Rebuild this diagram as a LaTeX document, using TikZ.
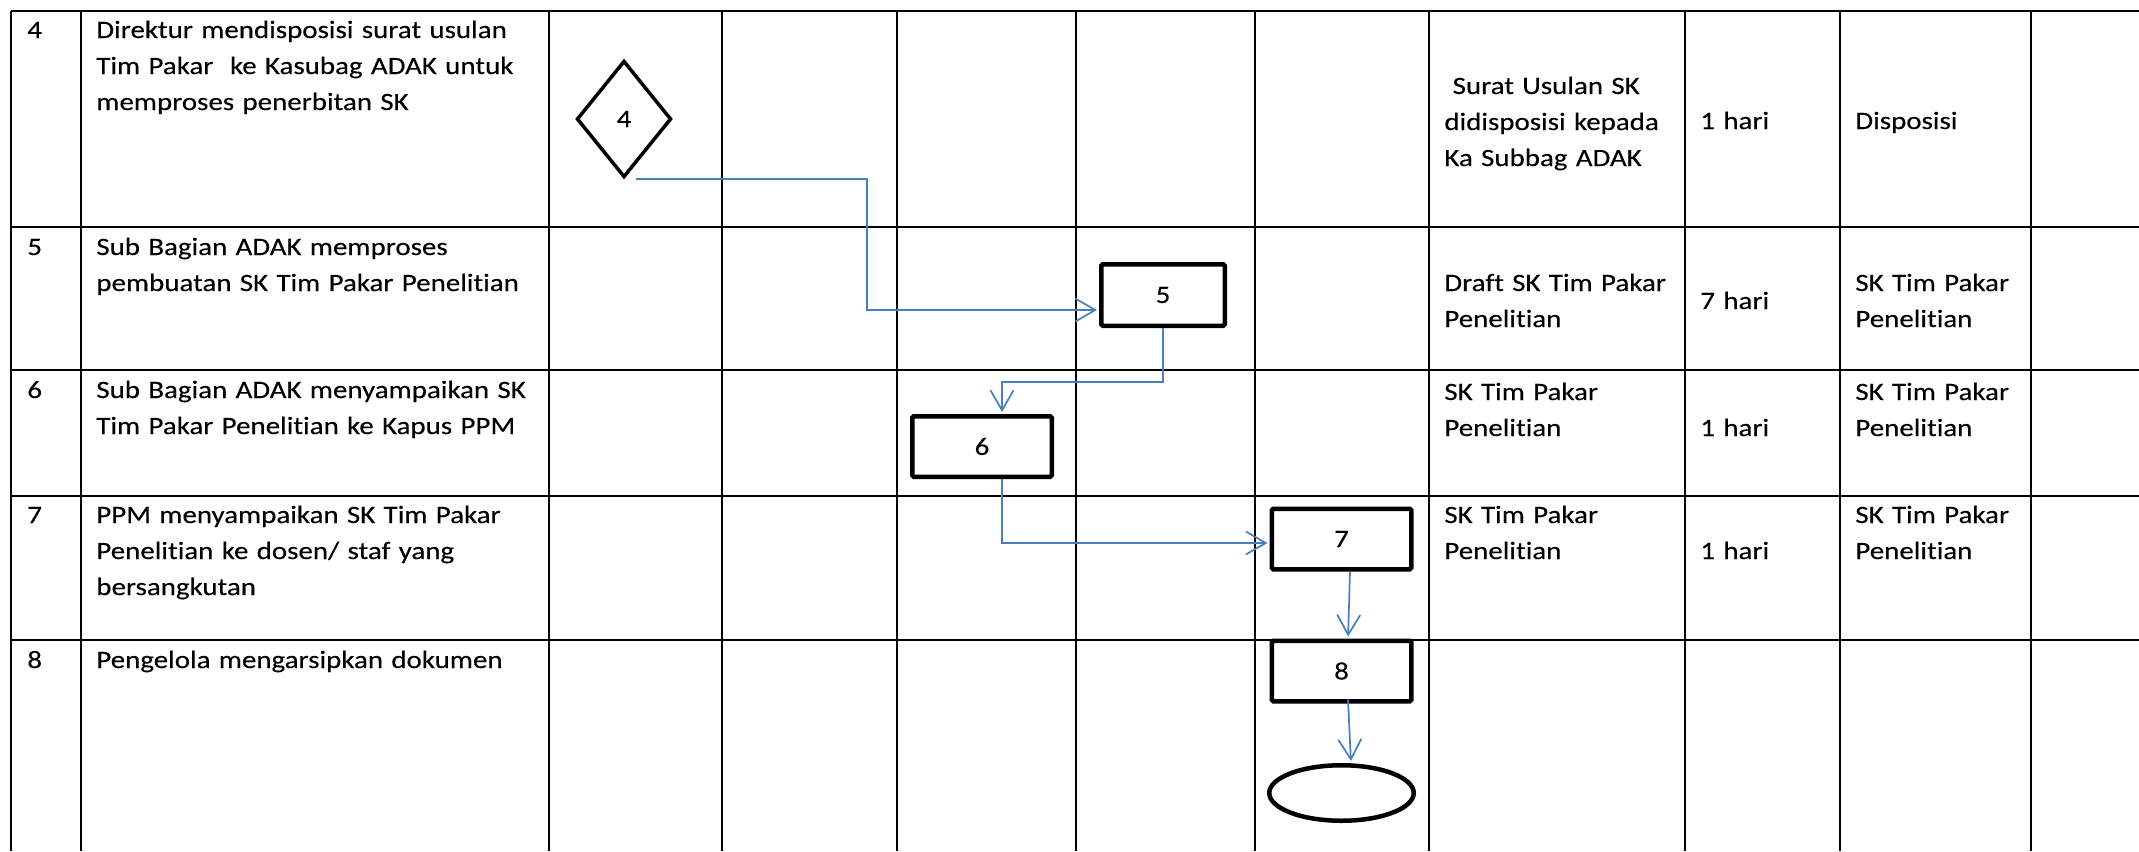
\documentclass[tikz,border=0pt]{standalone}
\usepackage{fontspec}
\setmainfont{Carlito}[FakeStretch=1.16,FakeBold=0.2,Ligatures=NoCommon]
\usetikzlibrary{shapes.geometric,arrows.meta}
\definecolor{flowblue}{RGB}{74,126,187}

\begin{document}
\begin{tikzpicture}[x=0.2mm,y=-0.2mm,
    grid/.style={line width=0.36mm},
    txt/.style={anchor=base west,inner sep=0pt,text width=110mm,align=left,
        font=\fontsize{14.2pt}{20.5pt}\selectfont},
    proc/.style={draw,rectangle,line width=0.9mm,rounded corners=0.3mm,
        minimum width=27.9mm,minimum height=12.1mm,inner sep=0pt,
        font=\fontsize{14.2pt}{20.5pt}\selectfont},
    flow/.style={draw=flowblue,line width=0.34mm,shorten >=0.4mm,
        -{Straight Barb[length=4mm,width=4.6mm]}}]

    \path[use as bounding box,fill=white] (0,0) rectangle (2139,851);

    % Table lines
    \foreach \c in {11,81,549,722,897,1076,1255,1429,1685,1840,2031}
        \draw[grid] (\c,11) -- (\c,851);
    \foreach \r in {11,227,370,496,640}
        \draw[grid] (11,\r) -- (2139,\r);

    % Step numbers
    \foreach \n/\r in {4/38,5/255,6/398,7/523,8/668}
        \node[txt] (no\n) at (27,\r) {\n};

    % Kegiatan
    \node[txt] (kg4) at (96,38) {Direktur mendisposisi surat usulan\\Tim Pakar \ ke Kasubag ADAK untuk\\memproses penerbitan SK};
    \node[txt] (kg5) at (96,255) {Sub Bagian ADAK memproses\\pembuatan SK Tim Pakar Penelitian};
    \node[txt] (kg6) at (96,398) {Sub Bagian ADAK menyampaikan SK\\Tim Pakar Penelitian ke Kapus PPM};
    \node[txt] (kg7) at (96,523) {PPM menyampaikan SK Tim Pakar\\Penelitian ke dosen/ staf yang\\bersangkutan};
    \node[txt] (kg8) at (96,668) {Pengelola mengarsipkan dokumen};

    % Kelengkapan
    \node[txt] (kl4) at (1444,94) {\ Surat Usulan SK\\didisposisi kepada\\Ka Subbag ADAK};
    \node[txt] (kl5) at (1444,291) {Draft SK Tim Pakar\\Penelitian};
    \node[txt] (kl6) at (1444,400) {SK Tim Pakar\\Penelitian};
    \node[txt] (kl7) at (1444,523) {SK Tim Pakar\\Penelitian};

    % Waktu
    \node[txt] (wk4) at (1700,129) {1 hari};
    \node[txt] (wk5) at (1700,309) {7 hari};
    \node[txt] (wk6) at (1700,436) {1 hari};
    \node[txt] (wk7) at (1700,559) {1 hari};

    % Output
    \node[txt] (op4) at (1855,129) {Disposisi};
    \node[txt] (op5) at (1855,291) {SK Tim Pakar\\Penelitian};
    \node[txt] (op6) at (1855,400) {SK Tim Pakar\\Penelitian};
    \node[txt] (op7) at (1855,523) {SK Tim Pakar\\Penelitian};

    % Flow symbols
    \node[draw,diamond,line width=0.7mm,minimum width=18.9mm,minimum height=23.3mm,
        inner sep=0pt,font=\fontsize{14.2pt}{20.5pt}\selectfont] (d4) at (624,119) {4};
    \node[proc,minimum width=24.7mm,minimum height=12.3mm] (b5) at (1163,295) {5};
    \node[proc] (b6) at (982,446.5) {6};
    \node[proc] (b7) at (1341.5,539) {7};
    \node[proc] (b8) at (1341.5,671) {8};
    \node[draw,ellipse,line width=0.9mm,minimum width=28.9mm,minimum height=11.1mm] (end) at (1341.5,793) {};

    % Connectors
    \coordinate (k1) at (867,310);
    \coordinate (k2) at (1002,382);
    \coordinate (k3) at (1002,543);
    \draw[flow] ([xshift=2.4mm]d4.south) -| (k1) -- (b5.west |- k1);
    \draw[flow] (b5.south) |- (k2) -- (b6.north -| k2);
    \draw[flow] (b6.south -| k3) -- (k3) -- (b7.west |- k3);
    \draw[flow] ([xshift=1.7mm]b7.south) -- ([xshift=1.3mm]b8.north);
    \draw[flow] ([xshift=1.3mm,yshift=0.8mm]b8.south) -- ([xshift=1.9mm]end.north);

\end{tikzpicture}
\end{document}
